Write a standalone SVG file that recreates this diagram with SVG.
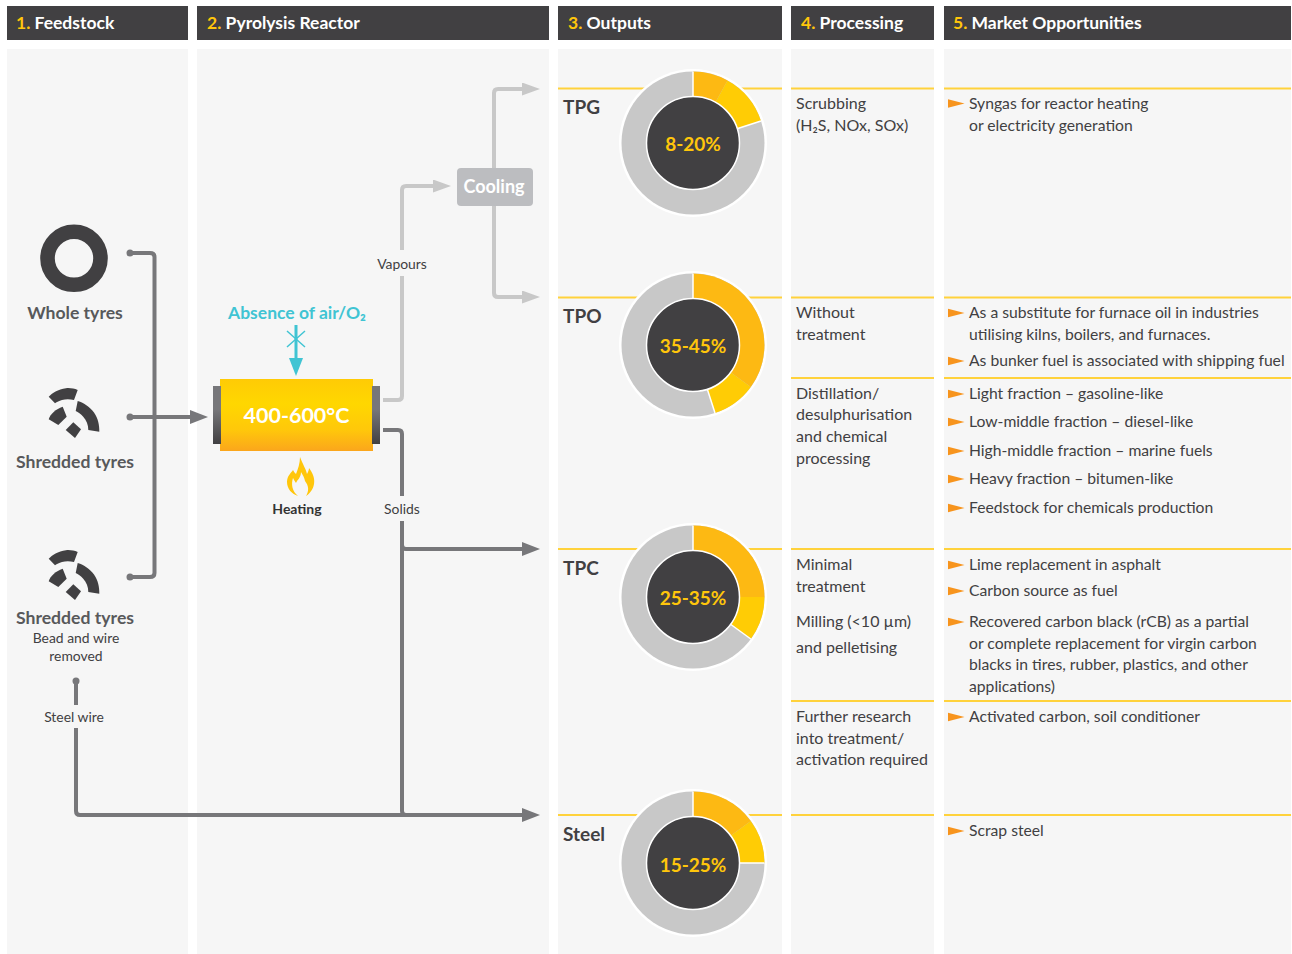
<svg xmlns="http://www.w3.org/2000/svg" width="1292" height="954" viewBox="0 0 1292 954">
<defs>
<linearGradient id="rg" x1="0" y1="0" x2="0" y2="1"><stop offset="0" stop-color="#FFCB05"/><stop offset="0.35" stop-color="#FFD700"/><stop offset="0.7" stop-color="#FFC80A"/><stop offset="1" stop-color="#FBA61C"/></linearGradient>
<linearGradient id="cap" x1="0" y1="0" x2="0" y2="1"><stop offset="0" stop-color="#77777a"/><stop offset="0.4" stop-color="#77777a"/><stop offset="1" stop-color="#414042"/></linearGradient>
<marker id="ad" markerUnits="userSpaceOnUse" markerWidth="18" markerHeight="14" refX="3" refY="7" orient="auto"><path d="M0 0L18 7L0 14z" fill="#77777a"/></marker>
<marker id="al" markerUnits="userSpaceOnUse" markerWidth="18" markerHeight="13" refX="3" refY="6.500" orient="auto"><path d="M0 0L18 6.500L0 13z" fill="#c8c8c8"/></marker>
<symbol id="bul" overflow="visible"><path d="M0 -4.300L16.500 0L0 4.300z" fill="#F7941D"/></symbol>
<g id="shred"><path d="M48.700 396.700C52 393 58 389.500 66 388.200C70 387.800 74 388.500 77.700 390L74 400C70 399 66 398.800 62 400C59 400.800 57 402 55 403.300z"/><path d="M77.700 401C84 403 90 407 94 412.500C98 418 99.500 425 99.300 431.700L88.300 430C88.300 425 86.500 420 83 416.500C81 414 78 412 75.700 411z"/><path d="M62.700 406.700L66.700 416.700L58.300 425L48.700 419.300C50 414 56 409 62.700 406.700z"/><path d="M73.300 422.300L81 429.300L75 438L65.700 430z"/></g>
</defs>
<style>
text{font-family:"Lato","Noto Sans","Liberation Sans",sans-serif;}
.col{fill:#f6f6f6}.hd{fill:#414042}
.ht{font-size:17.500px;font-weight:700;fill:#fff}.hn{fill:#FFC60B}
.sep{stroke:#FFD23C;stroke-width:2;fill:none}
.t{font-size:15.700px;fill:#414042}
.p{font-size:16px;fill:#414042}
.lb{font-size:17.600px;font-weight:700;fill:#58595b}
.sm{font-size:13.900px;fill:#414042}
.out{font-size:19px;font-weight:700;fill:#414042}
.pct{font-size:19px;font-weight:700;fill:#FFC60B;text-anchor:middle}
.gy{stroke:#77777a;stroke-width:4;fill:none}
.lg{stroke:#c8c8c8;stroke-width:4;fill:none}
.c1{fill:#FDB913}.c2{fill:#FFCC05}.c0{fill:#c8c8c8}
</style>
<g id="columns">
<rect class="col" x="7" y="49" width="181" height="905"/><rect class="col" x="197" y="49" width="352" height="905"/><rect class="col" x="558" y="49" width="224" height="905"/><rect class="col" x="791" y="49" width="143" height="905"/><rect class="col" x="944" y="49" width="347" height="905"/>
<rect class="hd" x="7" y="6" width="181" height="34"/><rect class="hd" x="197" y="6" width="352" height="34"/><rect class="hd" x="558" y="6" width="224" height="34"/><rect class="hd" x="791" y="6" width="143" height="34"/><rect class="hd" x="944" y="6" width="347" height="34"/>
<text class="ht" x="16" y="29"><tspan class="hn">1.</tspan> Feedstock</text>
<text class="ht" x="207" y="29"><tspan class="hn">2.</tspan> Pyrolysis Reactor</text>
<text class="ht" x="568" y="29"><tspan class="hn">3.</tspan> Outputs</text>
<text class="ht" x="801" y="29"><tspan class="hn">4.</tspan> Processing</text>
<text class="ht" x="953" y="29"><tspan class="hn">5.</tspan> Market Opportunities</text>
</g>
<g id="separators">
<path class="sep" d="M558 88.500H782M791 88.500H934M944 88.500H1291M558 297.500H782M791 297.500H934M944 297.500H1291M791 378H934M944 378H1291M558 549H782M791 549H934M944 549H1291M791 701H934M944 701H1291M558 815H782M791 815H934M944 815H1291"/>
</g>
<g id="connectors">
<path class="gy" d="M130 253H150Q154.500 253 154.500 257V573Q154.500 577 150 577H130"/>
<circle cx="130" cy="253" r="3.500" fill="#77777a"/><circle cx="130" cy="417" r="3.500" fill="#77777a"/><circle cx="130" cy="577" r="3.500" fill="#77777a"/><circle cx="76" cy="681" r="3.500" fill="#77777a"/>
<path class="gy" d="M130 417H193" marker-end="url(#ad)"/>
<path class="gy" d="M383 430H398Q402 430 402 434V545Q402 549 406 549H525" marker-end="url(#ad)"/>
<path class="gy" d="M402 545V811Q402 815 406 815"/>
<path class="gy" d="M76 681V811Q76 815 80 815H525" marker-end="url(#ad)"/>
<path class="lg" d="M383 400H398Q402 400 402 396V190Q402 186 406 186H436" marker-end="url(#al)"/>
<path class="lg" d="M494 170V93Q494 89 498 89H525" marker-end="url(#al)"/>
<path class="lg" d="M494 205V293Q494 297 498 297H525" marker-end="url(#al)"/>
<path d="M296 325V360" stroke="#40C4D3" stroke-width="3" fill="none"/>
<path d="M287 331L305 347M305 331L287 347" stroke="#40C4D3" stroke-width="1.500" fill="none"/>
<path d="M289 358H303L296 376z" fill="#40C4D3"/>
<rect x="366" y="250" width="72" height="26" class="col"/><rect x="380" y="496" width="44" height="25" class="col"/><rect x="40" y="705" width="70" height="23" class="col"/>
</g>
<g id="feedstock">
<g id="whole"><circle cx="74" cy="258.300" r="26.500" fill="none" stroke="#414042" stroke-width="14.600"/><text class="lb" x="75" y="319" text-anchor="middle">Whole tyres</text></g>
<g id="shredded"><use href="#shred" fill="#414042"/><text class="lb" x="75" y="468" text-anchor="middle">Shredded tyres</text></g>
<g id="shredded2"><use href="#shred" y="162" fill="#414042"/><text class="lb" x="75" y="624" text-anchor="middle">Shredded tyres</text><text class="sm" x="76" y="643" text-anchor="middle">Bead and wire</text><text class="sm" x="76" y="661" text-anchor="middle">removed</text></g>
<text class="sm" x="74" y="722" text-anchor="middle" id="steelwire">Steel wire</text>
</g>
<g id="reactor">
<rect x="220" y="379" width="153" height="72" fill="url(#rg)"/>
<rect x="213" y="386" width="8" height="58" fill="url(#cap)"/><rect x="372" y="386" width="8" height="58" fill="url(#cap)"/>
<text x="296.500" y="423" text-anchor="middle" font-size="21.500" font-weight="700" fill="#fff">400-600°C</text>
<text x="297" y="319" text-anchor="middle" font-size="17.500" font-weight="700" fill="#40C4D3">Absence of air/O₂</text>
<path d="M300 457C303 465 306 469 307 474C308 472 309 470 309 468C313 473 315 479 314 484C313 490 309 494 306 496C309 491 309 486 305 481C304 476 302 474 301 472C301 478 297 480 296 483C294 480 293 478 293 478C291 484 292 491 298 496C292 494 287 489 287 482C287 476 291 473 293 470C294 472 295 473 296 474C298 469 300 463 300 457z" fill="#FFC60B"/>
<text x="297" y="514" text-anchor="middle" font-size="14" font-weight="700" fill="#333">Heating</text>
<text class="sm" x="402" y="269" text-anchor="middle">Vapours</text>
<text class="sm" x="402" y="514" text-anchor="middle">Solids</text>
<g id="cooling"><rect x="457" y="168" width="76" height="38" rx="4" fill="#bcbdc0"/><text x="494" y="193" text-anchor="middle" font-size="18" font-weight="700" fill="#fff">Cooling</text></g>
</g>
<g id="tpg"><text class="out" x="563" y="114">TPG</text>
<circle cx="693" cy="143" r="74" fill="#fff"/><circle class="c0" cx="693" cy="143" r="71.500"/>
<path class="c1" d="M693 143V71.500A71.500 71.500 0 0 1 727.500 80.400z"/><path class="c2" d="M693 143L727.500 80.400A71.500 71.500 0 0 1 761 121z"/>
<path d="M693 143V71.500M693 143L761 121" stroke="#fff" stroke-width="1.500"/>
<circle cx="693" cy="143" r="46.500" fill="#414042" stroke="#fff" stroke-width="1.500"/><text class="pct" x="693" y="150.500">8-20%</text></g>
<g id="tpo"><text class="out" x="563" y="323">TPO</text>
<circle cx="693" cy="345" r="74" fill="#fff"/><circle class="c0" cx="693" cy="345" r="71.500"/>
<path class="c1" d="M693 345V273.500A71.500 71.500 0 0 1 750.800 387z"/><path class="c2" d="M693 345L750.800 387A71.500 71.500 0 0 1 715 413z"/>
<path d="M693 345V273.500M693 345L715 413" stroke="#fff" stroke-width="1.500"/>
<circle cx="693" cy="345" r="46.500" fill="#414042" stroke="#fff" stroke-width="1.500"/><text class="pct" x="693" y="353">35-45%</text></g>
<g id="tpc"><text class="out" x="563" y="575">TPC</text>
<circle cx="693" cy="597" r="74" fill="#fff"/><circle class="c0" cx="693" cy="597" r="71.500"/>
<path class="c1" d="M693 597V525.500A71.500 71.500 0 0 1 764.500 597z"/><path class="c2" d="M693 597H764.500A71.500 71.500 0 0 1 750.800 639z"/>
<path d="M693 597V525.500M693 597L750.800 639" stroke="#fff" stroke-width="1.500"/>
<circle cx="693" cy="597" r="46.500" fill="#414042" stroke="#fff" stroke-width="1.500"/><text class="pct" x="693" y="605">25-35%</text></g>
<g id="steel"><text class="out" x="563" y="841">Steel</text>
<circle cx="693" cy="863" r="74" fill="#fff"/><circle class="c0" cx="693" cy="863" r="71.500"/>
<path class="c1" d="M693 863V791.500A71.500 71.500 0 0 1 750.800 821z"/><path class="c2" d="M693 863L750.800 821A71.500 71.500 0 0 1 764.500 863z"/>
<path d="M693 863V791.500M693 863H764.500" stroke="#fff" stroke-width="1.500"/>
<circle cx="693" cy="863" r="46.500" fill="#414042" stroke="#fff" stroke-width="1.500"/><text class="pct" x="693" y="872">15-25%</text></g>
<g id="processing">
<text class="p" x="796" y="109">Scrubbing</text><text class="p" x="796" y="131">(H₂S, NOx, SOx)</text>
<text class="p" x="796" y="318">Without</text><text class="p" x="796" y="340">treatment</text>
<text class="p" x="796" y="399">Distillation/</text><text class="p" x="796" y="420">desulphurisation</text><text class="p" x="796" y="442">and chemical</text><text class="p" x="796" y="464">processing</text>
<text class="p" x="796" y="570">Minimal</text><text class="p" x="796" y="592">treatment</text>
<text class="p" x="796" y="627">Milling (&lt;10 µm)</text><text class="p" x="796" y="653">and pelletising</text>
<text class="p" x="796" y="722">Further research</text><text class="p" x="796" y="744">into treatment/</text><text class="p" x="796" y="765">activation required</text>
</g>
<g id="market">
<use href="#bul" x="948" y="103.500"/><text class="t" x="969" y="109">Syngas for reactor heating</text><text class="t" x="969" y="131">or electricity generation</text>
<use href="#bul" x="948" y="313"/><text class="t" x="969" y="318">As a substitute for furnace oil in industries</text><text class="t" x="969" y="340">utilising kilns, boilers, and furnaces.</text>
<use href="#bul" x="948" y="361"/><text class="t" x="969" y="366">As bunker fuel is associated with shipping fuel</text>
<use href="#bul" x="948" y="394"/><text class="t" x="969" y="399">Light fraction – gasoline-like</text>
<use href="#bul" x="948" y="422"/><text class="t" x="969" y="427">Low-middle fraction – diesel-like</text>
<use href="#bul" x="948" y="451"/><text class="t" x="969" y="456">High-middle fraction – marine fuels</text>
<use href="#bul" x="948" y="479"/><text class="t" x="969" y="484">Heavy fraction – bitumen-like</text>
<use href="#bul" x="948" y="508"/><text class="t" x="969" y="513">Feedstock for chemicals production</text>
<use href="#bul" x="948" y="565"/><text class="t" x="969" y="570">Lime replacement in asphalt</text>
<use href="#bul" x="948" y="591"/><text class="t" x="969" y="596">Carbon source as fuel</text>
<use href="#bul" x="948" y="622"/><text class="t" x="969" y="627">Recovered carbon black (rCB) as a partial</text><text class="t" x="969" y="649">or complete replacement for virgin carbon</text><text class="t" x="969" y="670">blacks in tires, rubber, plastics, and other</text><text class="t" x="969" y="692">applications)</text>
<use href="#bul" x="948" y="717"/><text class="t" x="969" y="722">Activated carbon, soil conditioner</text>
<use href="#bul" x="948" y="831"/><text class="t" x="969" y="836">Scrap steel</text>
</g>
</svg>
